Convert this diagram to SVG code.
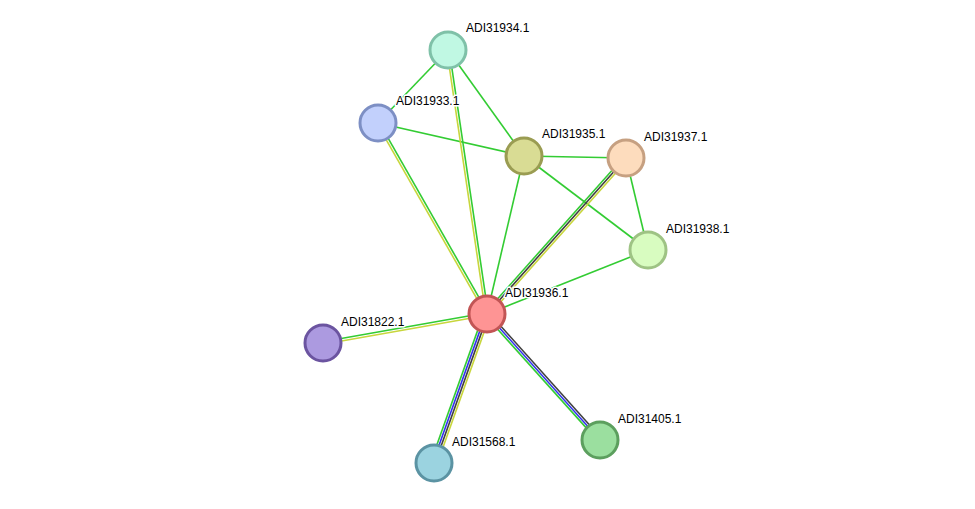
<svg xmlns="http://www.w3.org/2000/svg" width="975" height="509" viewBox="0 0 975 509">
<style>
.e{stroke-width:1.6;fill:none}
.g{stroke:#33cc33}.y{stroke:#c8d63c}.k{stroke:#404040}.b{stroke:#3333ee}
.n{stroke-width:3}
.t{font-family:"Liberation Sans",Arial,sans-serif;font-size:12px;fill:#000;stroke:#fff;stroke-width:3;paint-order:stroke;stroke-linejoin:round}
</style>
<rect width="975" height="509" fill="#fff"/>
<g id="connectors">
<line class="e g" x1="448" y1="50" x2="378" y2="123"/>
<line class="e g" x1="448" y1="50" x2="524" y2="156"/>
<line class="e g" x1="378" y1="123" x2="524" y2="156"/>
<line class="e g" x1="524" y1="156" x2="626" y2="158"/>
<line class="e g" x1="524" y1="156" x2="648" y2="250"/>
<line class="e g" x1="524" y1="156" x2="487" y2="314"/>
<line class="e g" x1="626" y1="158" x2="648" y2="250"/>
<line class="e g" x1="648" y1="250" x2="487" y2="314"/>
<g transform="translate(487,314) rotate(-98.4)">
<line class="e g" x1="0" y1="1.2" x2="266.9" y2="1.2"/>
<line class="e y" x1="0" y1="-1.2" x2="266.9" y2="-1.2"/>
</g>
<g transform="translate(487,314) rotate(-119.7)">
<line class="e g" x1="0" y1="1.2" x2="219.9" y2="1.2"/>
<line class="e y" x1="0" y1="-1.2" x2="219.9" y2="-1.2"/>
</g>
<g transform="translate(487,314) rotate(-48.3)">
<line class="e g" x1="0" y1="-2.2" x2="209" y2="-2.2"/>
<line class="e k" x1="0" y1="0" x2="209" y2="0"/>
<line class="e y" x1="0" y1="2.2" x2="209" y2="2.2"/>
</g>
<g transform="translate(487,314) rotate(169.97)">
<line class="e g" x1="0" y1="1.2" x2="166.5" y2="1.2"/>
<line class="e y" x1="0" y1="-1.2" x2="166.5" y2="-1.2"/>
</g>
<g transform="translate(487,314) rotate(109.6)">
<line class="e g" x1="0" y1="3.3" x2="158.1" y2="3.3"/>
<line class="e b" x1="0" y1="1.1" x2="158.1" y2="1.1"/>
<line class="e k" x1="0" y1="-1.1" x2="158.1" y2="-1.1"/>
<line class="e y" x1="0" y1="-3.3" x2="158.1" y2="-3.3"/>
</g>
<g transform="translate(487,314) rotate(48.1)">
<line class="e g" x1="0" y1="2.2" x2="169.2" y2="2.2"/>
<line class="e b" x1="0" y1="0" x2="169.2" y2="0"/>
<line class="e k" x1="0" y1="-2.2" x2="169.2" y2="-2.2"/>
</g>
</g>
<g id="ADI31934.1"><circle class="n" cx="448" cy="50" r="18" fill="#c0f8e3" stroke="#7fc1a8"/><text class="t" x="466" y="32">ADI31934.1</text></g>
<g id="ADI31933.1"><circle class="n" cx="378" cy="123" r="18" fill="#c2d0fc" stroke="#7d8fc4"/><text class="t" x="396" y="105">ADI31933.1</text></g>
<g id="ADI31935.1"><circle class="n" cx="524" cy="156" r="18" fill="#d9dc94" stroke="#9a9c52"/><text class="t" x="542" y="138">ADI31935.1</text></g>
<g id="ADI31937.1"><circle class="n" cx="626" cy="158" r="18" fill="#fddcbd" stroke="#c6a081"/><text class="t" x="644" y="141">ADI31937.1</text></g>
<g id="ADI31938.1"><circle class="n" cx="648" cy="250" r="18" fill="#d8fcc0" stroke="#9ec384"/><text class="t" x="666" y="233">ADI31938.1</text></g>
<g id="ADI31936.1"><circle class="n" cx="487" cy="314" r="18" fill="#fe9494" stroke="#c25555"/><text class="t" x="505" y="297">ADI31936.1</text></g>
<g id="ADI31822.1"><circle class="n" cx="323" cy="343" r="18" fill="#ac9ae0" stroke="#6b54a0"/><text class="t" x="341" y="326">ADI31822.1</text></g>
<g id="ADI31568.1"><circle class="n" cx="434" cy="463" r="18" fill="#9bd3e0" stroke="#5b93a3"/><text class="t" x="452" y="446">ADI31568.1</text></g>
<g id="ADI31405.1"><circle class="n" cx="600" cy="440" r="18" fill="#9bdf9f" stroke="#5c9f5e"/><text class="t" x="618" y="423">ADI31405.1</text></g>
</svg>
